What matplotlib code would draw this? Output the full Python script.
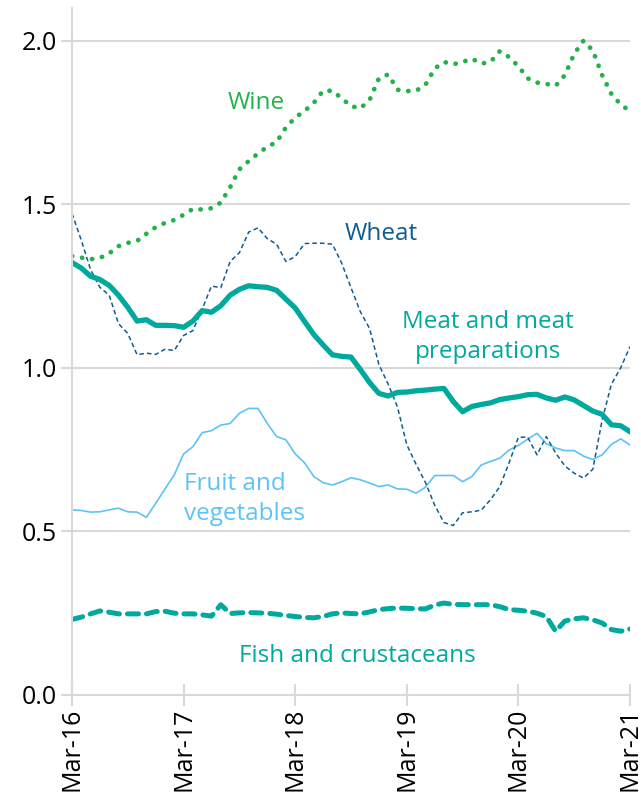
import numpy as np
import matplotlib
matplotlib.use("Agg")
import matplotlib.pyplot as plt

plt.rcParams['font.family'] = ['Open Sans', 'DejaVu Sans']

# monthly values, Mar-16 .. Mar-21
wine = [1.342, 1.337, 1.332, 1.336, 1.350, 1.372, 1.382, 1.388, 1.410, 1.430,
        1.443, 1.452, 1.468, 1.486, 1.484, 1.488, 1.505, 1.552, 1.607, 1.632,
        1.655, 1.676, 1.690, 1.735, 1.765, 1.785, 1.810, 1.847, 1.847, 1.824,
        1.800, 1.793, 1.819, 1.885, 1.897, 1.850, 1.846, 1.847, 1.865, 1.915,
        1.935, 1.928, 1.935, 1.945, 1.930, 1.935, 1.968, 1.950, 1.922, 1.885,
        1.872, 1.868, 1.862, 1.895, 1.960, 2.000, 1.970, 1.895, 1.837, 1.805,
        1.785]
wheat = [1.472, 1.390, 1.300, 1.246, 1.222, 1.135, 1.105, 1.040, 1.045, 1.041,
         1.057, 1.053, 1.099, 1.114, 1.180, 1.250, 1.245, 1.325, 1.352, 1.415,
         1.428, 1.395, 1.378, 1.325, 1.340, 1.380, 1.381, 1.381, 1.378, 1.320,
         1.245, 1.172, 1.120, 1.010, 0.950, 0.880, 0.765, 0.705, 0.650, 0.580,
         0.527, 0.518, 0.557, 0.560, 0.565, 0.597, 0.637, 0.710, 0.788, 0.788,
         0.734, 0.790, 0.740, 0.700, 0.678, 0.663, 0.690, 0.840, 0.950, 1.000,
         1.065]
meat = [1.322, 1.305, 1.280, 1.270, 1.252, 1.222, 1.185, 1.143, 1.147, 1.130,
        1.130, 1.129, 1.124, 1.143, 1.175, 1.170, 1.190, 1.222, 1.240, 1.251,
        1.248, 1.246, 1.237, 1.210, 1.183, 1.142, 1.102, 1.070, 1.040, 1.035,
        1.033, 0.995, 0.955, 0.922, 0.914, 0.925, 0.926, 0.930, 0.932, 0.935,
        0.937, 0.897, 0.866, 0.882, 0.888, 0.893, 0.903, 0.908, 0.912, 0.918,
        0.919, 0.908, 0.901, 0.911, 0.902, 0.885, 0.868, 0.858, 0.826, 0.823,
        0.805]
fruit = [0.566, 0.564, 0.559, 0.560, 0.566, 0.571, 0.560, 0.559, 0.543, 0.586,
         0.630, 0.673, 0.737, 0.759, 0.802, 0.808, 0.825, 0.830, 0.861, 0.876,
         0.876, 0.830, 0.790, 0.780, 0.737, 0.710, 0.668, 0.649, 0.642, 0.652,
         0.664, 0.658, 0.648, 0.637, 0.642, 0.630, 0.629, 0.617, 0.635, 0.671,
         0.671, 0.671, 0.652, 0.668, 0.703, 0.714, 0.724, 0.749, 0.763, 0.782,
         0.800, 0.768, 0.755, 0.747, 0.747, 0.730, 0.720, 0.734, 0.766, 0.783,
         0.764]
fish = [0.231, 0.238, 0.248, 0.257, 0.253, 0.248, 0.248, 0.248, 0.248, 0.255,
        0.256, 0.250, 0.248, 0.248, 0.245, 0.241, 0.276, 0.249, 0.251, 0.252,
        0.251, 0.250, 0.247, 0.243, 0.240, 0.237, 0.236, 0.240, 0.248, 0.251,
        0.249, 0.248, 0.254, 0.261, 0.264, 0.266, 0.265, 0.264, 0.263, 0.275,
        0.281, 0.277, 0.276, 0.276, 0.276, 0.276, 0.270, 0.261, 0.259, 0.256,
        0.250, 0.240, 0.195, 0.226, 0.233, 0.236, 0.230, 0.220, 0.200, 0.195,
        0.202]
xlabels = ['Mar-16', 'Mar-17', 'Mar-18', 'Mar-19', 'Mar-20', 'Mar-21']
yticks = [0.0, 0.5, 1.0, 1.5, 2.0]

GREEN = '#22b24c'
NAVY = '#0f5c8f'
TEAL = '#00a99d'
LIGHT = '#5cc3f5'
GRID = '#d9d9d9'

months = np.arange(len(wine))

fig = plt.figure(figsize=(6.41, 8.0), dpi=100)
ax = fig.add_axes([72/641, 105/800, 558/641, 687/800])

ax.plot(months, fruit, color=LIGHT, lw=1.2)
ax.plot(months, wheat, color=NAVY, lw=1.1, linestyle=(0, (3, 2)))
ax.plot(months, meat, color=TEAL, lw=3.8, solid_joinstyle='round')
ax.plot(months, fish, color=TEAL, lw=3.6, linestyle=(0, (2.2, 1.6)),
        dash_capstyle='round')
ax.plot(months, wine, color=GREEN, lw=3.4, linestyle=(0, (0.05, 2.1)),
        dash_capstyle='round')

ax.set_xlim(0, 60)
ax.set_ylim(0, 2.1)
ax.set_yticks(yticks)
ax.set_yticklabels([f'{v:.1f}' for v in yticks])
ax.set_xticks(np.arange(0, 61, 12))
ax.set_xticklabels(xlabels, rotation=90)
ax.yaxis.grid(True, color=GRID, lw=1.5)
ax.set_axisbelow(True)

for s in ['top', 'right']:
    ax.spines[s].set_visible(False)
for s in ['left', 'bottom']:
    ax.spines[s].set_color(GRID)
    ax.spines[s].set_linewidth(1.5)
ax.tick_params(axis='y', length=8, width=1.5, color=GRID, labelsize=18,
               pad=3, labelcolor='black')
ax.tick_params(axis='x', direction='inout', length=16, width=1.5, color=GRID,
               labelsize=18, pad=1)

ax.text(19.8, 1.81, 'Wine', color=GREEN, fontsize=17.5, ha='center', va='center')
ax.text(33.3, 1.41, 'Wheat', color=NAVY, fontsize=17.5, ha='center', va='center')
ax.text(44.7, 1.095, 'Meat and meat\npreparations', color=TEAL, fontsize=17.5,
        ha='center', va='center', linespacing=1.35)
ax.text(12, 0.6, 'Fruit and\nvegetables', color=LIGHT, fontsize=17.5,
        ha='left', va='center', linespacing=1.35)
ax.text(30.7, 0.12, 'Fish and crustaceans', color=TEAL, fontsize=17.5,
        ha='center', va='center')

fig.savefig('out.png', dpi=100)
